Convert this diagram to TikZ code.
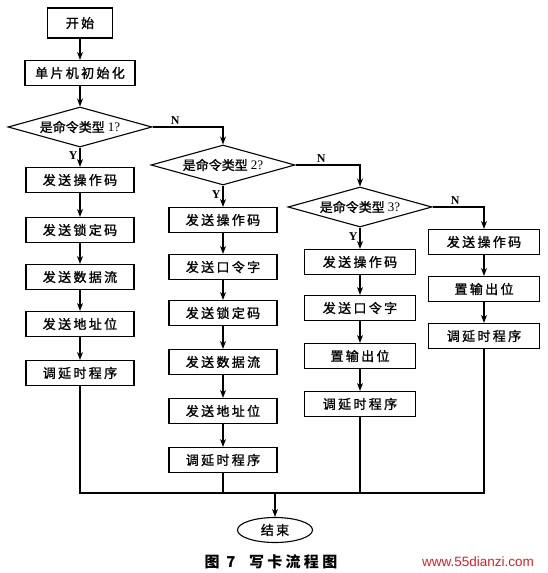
\documentclass[tikz,border=0pt]{standalone}
\usepackage{fontspec}
\setmainfont{Liberation Serif}
\newfontfamily\cjk[LetterSpace=18,FakeBold=1.2]{Noto Sans CJK SC}
\newfontfamily\cjkq[FakeBold=1.2]{Noto Sans CJK SC}
\newfontfamily\cjkcap[LetterSpace=22]{Noto Sans CJK SC}
\newfontfamily\wmfont{Liberation Sans}
\usetikzlibrary{shapes.geometric,arrows.meta}

\definecolor{wmred}{RGB}{205,35,40}

\tikzset{
  blk/.style={draw, line width=1.1pt, minimum width=108pt, minimum height=25pt, inner sep=0pt,
    font=\cjk\fontsize{13}{15}\selectfont},
  ask/.style={draw, diamond, aspect=3.6, line width=1.1pt, inner sep=0pt, minimum width=144pt,
    minimum height=40pt, font=\fontsize{13}{15}\selectfont},
  arr/.style={-{Stealth[length=8pt,width=6pt]}, line width=1.1pt},
  ln/.style={line width=1.1pt},
  yn/.style={font=\bfseries\fontsize{12}{12}\selectfont, inner sep=2pt}
}

\begin{document}
\begin{tikzpicture}[x=1pt, y=-1pt]
	\useasboundingbox (0,0) rectangle (548,573);
	% main column
	\node[blk, minimum width=65pt, minimum height=30pt] (start) at (80,23) {开始};
	\node[blk, minimum width=110pt] (init) at (80,73) {单片机初始化};
	\node[ask] (q1) at (80,127) {{\cjkq 是命令类型} 1?};
	\node[blk] (a1) at (80,180) {发送操作码};
	\node[blk] (a2) at (80,230) {发送锁定码};
	\node[blk] (a3) at (80,277) {发送数据流};
	\node[blk] (a4) at (80,324) {发送地址位};
	\node[blk] (a5) at (80,373) {调延时程序};
	% type 2
	\node[ask] (q2) at (223,165) {{\cjkq 是命令类型} 2?};
	\node[blk] (b1) at (223,220) {发送操作码};
	\node[blk] (b2) at (223,267) {发送口令字};
	\node[blk] (b3) at (223,313) {发送锁定码};
	\node[blk] (b4) at (223,362) {发送数据流};
	\node[blk] (b5) at (223,411) {发送地址位};
	\node[blk] (b6) at (223,460) {调延时程序};
	% type 3
	\node[ask] (q3) at (360,207) {{\cjkq 是命令类型} 3?};
	\node[blk, minimum width=111pt] (c1) at (360,262) {发送操作码};
	\node[blk, minimum width=111pt] (c2) at (360,308) {发送口令字};
	\node[blk, minimum width=111pt] (c3) at (360,356) {置输出位};
	\node[blk, minimum width=111pt] (c4) at (360,404) {调延时程序};
	% other
	\node[blk, minimum width=111pt] (d1) at (484,242) {发送操作码};
	\node[blk, minimum width=111pt] (d2) at (484,289) {置输出位};
	\node[blk, minimum width=111pt] (d3) at (484,336) {调延时程序};
	% end
	\coordinate (join) at (275,493);
	\node[draw, ellipse, line width=1.1pt, minimum width=75pt, minimum height=25pt, inner sep=0pt,
	  font=\cjk\fontsize{13}{15}\selectfont] (stop) at (275,530) {结束};
	\node[font=\cjkcap\bfseries\fontsize{15}{17}\selectfont] (cap) at (271,562) {图\ 7\ \ 写卡流程图};
	\node[font=\wmfont\fontsize{13.5}{15}\selectfont, text=wmred] (wm) at (478,562) {www.55dianzi.com};

	\draw[arr] (start) -- (init);
	\draw[arr] (init) -- (q1);
	\draw[arr] (q1) -- node[yn, left, pos=0.4] {Y} (a1);
	\draw[arr] (q1.east) -| node[yn, above, pos=0.16] {N} (q2.north);
	\draw[arr] (a1) -- (a2);
	\draw[arr] (a2) -- (a3);
	\draw[arr] (a3) -- (a4);
	\draw[arr] (a4) -- (a5);

	\draw[arr] (q2) -- node[yn, left, pos=0.4] {Y} (b1);
	\draw[arr] (q2.east) -| node[yn, above, pos=0.2] {N} (q3.north);
	\draw[arr] (b1) -- (b2);
	\draw[arr] (b2) -- (b3);
	\draw[arr] (b3) -- (b4);
	\draw[arr] (b4) -- (b5);
	\draw[arr] (b5) -- (b6);

	\draw[arr] (q3) -- node[yn, left, pos=0.4] {Y} (c1);
	\draw[arr] (q3.east) -| node[yn, above, pos=0.22] {N} (d1.north);
	\draw[arr] (c1) -- (c2);
	\draw[arr] (c2) -- (c3);
	\draw[arr] (c3) -- (c4);

	\draw[arr] (d1) -- (d2);
	\draw[arr] (d2) -- (d3);

	\draw[ln] (a5) |- (join);
	\draw[ln] (b6) |- (join);
	\draw[ln] (c4) |- (join);
	\draw[ln] (d3) |- (join);
	\draw[arr] (join) -- (stop);
\end{tikzpicture}
\end{document}
